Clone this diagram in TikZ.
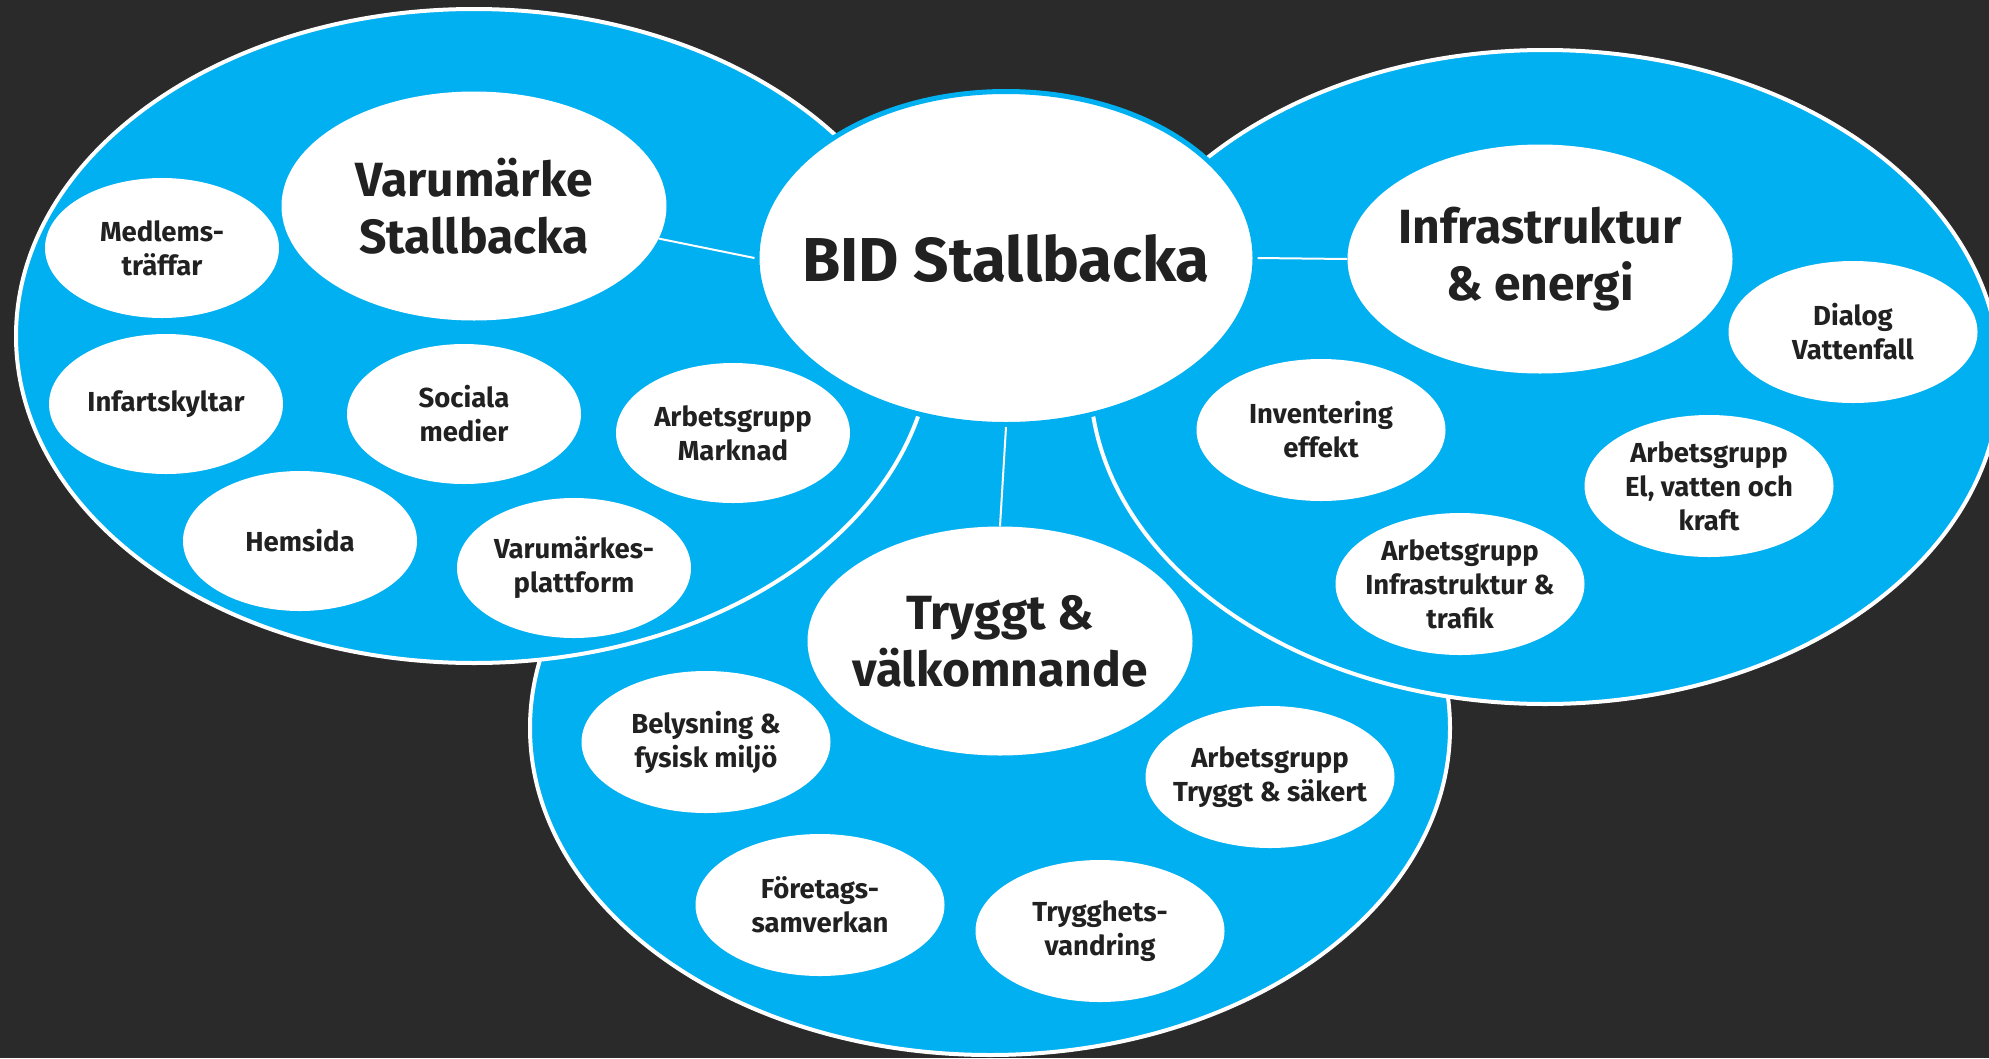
\documentclass[tikz,border=0pt]{standalone}
\usepackage{fontspec}
\setmainfont{Fira Sans}
\usetikzlibrary{shapes.geometric}
\definecolor{bgdark}{HTML}{2A2A2A}
\definecolor{bidblue}{HTML}{00B0F0}
\definecolor{ink}{HTML}{212121}
\tikzset{
  zone/.style={fill=bidblue,draw=white,line width=4pt},
  leaf/.style={ellipse,fill=white,text=ink,align=center,inner sep=-25pt,
    minimum width=234pt,minimum height=140pt,
    font=\bfseries\fontsize{27.5}{34}\selectfont},
  leafwide/.style={leaf,minimum width=249pt,minimum height=142pt},
  topic/.style={leaf,minimum width=385pt,minimum height=229pt,
    font=\bfseries\fontsize{48}{57}\selectfont},
  link/.style={draw=white,line width=2pt}
}
\begin{document}
\begin{tikzpicture}[x=1pt,y=-1pt]
  \fill[bgdark] (0,0) rectangle (1989,1058);
  \clip (0,0) rectangle (1989,1058);
  % the three areas
  \draw[zone] (990,728) ellipse [x radius=460pt,y radius=327pt];
  \draw[zone] (474,336) ellipse [x radius=458pt,y radius=327pt];
  \draw[zone] (1545,377) ellipse [x radius=455pt,y radius=327pt];
  \node[ellipse,fill=white,draw=bidblue,line width=5pt,text=ink,inner sep=-60pt,
    minimum width=498pt,minimum height=333pt,
    font=\bfseries\fontsize{62}{74}\selectfont] (bid) at (1006,258) {BID Stallbacka};
  \node[topic] (varum) at (474,206) {Varumärke\\Stallbacka};
  \node[topic] (infra) at (1540,259) {Infrastruktur\\\& energi};
  \node[topic] (tryggt) at (1000,641) {Tryggt \&\\välkomnande};
  \draw[link] (varum.-10) -- (bid.west);
  \draw[link] (bid.east) -- (infra.west);
  \draw[link] (bid.south) -- (tryggt.north);
  % Varumärke
  \node[leaf] (medlem) at (162,248) {Medlems-\\träffar};
  \node[leaf] (infart) at (166,404) {Infartskyltar};
  \node[leaf] (sociala) at (464,414) {Sociala\\medier};
  \node[leaf] (marknad) at (733,433) {Arbetsgrupp\\Marknad};
  \node[leaf] (hemsida) at (300,541) {Hemsida};
  \node[leaf] (plattform) at (574,568) {Varumärkes-\\plattform};
  % Infrastruktur
  \node[leafwide] (dialog) at (1853,332) {Dialog\\Vattenfall};
  \node[leafwide] (invent) at (1321,430) {Inventering\\effekt};
  \node[leafwide] (elgrupp) at (1709,486) {Arbetsgrupp\\El, vatten och\\kraft};
  \node[leafwide] (trafik) at (1460,584) {Arbetsgrupp\\Infrastruktur \&\\trafik};
  % Tryggt
  \node[leafwide] (belys) at (706,742) {Belysning \&\\fysisk miljö};
  \node[leafwide] (sakert) at (1270,777) {Arbetsgrupp\\Tryggt \& säkert};
  \node[leafwide] (foretag) at (820,905) {Företags-\\samverkan};
  \node[leafwide] (vandring) at (1100,931) {Trygghets-\\vandring};
\end{tikzpicture}
\end{document}
